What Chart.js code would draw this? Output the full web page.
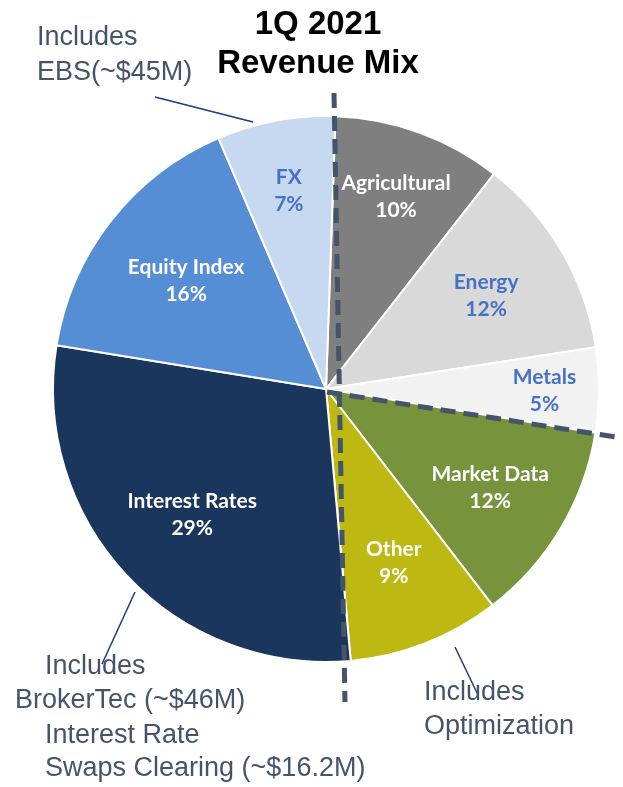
<!DOCTYPE html>
<html>
<head>
<meta charset="utf-8">
<script src="https://cdn.jsdelivr.net/npm/chart.js@4.4.0/dist/chart.umd.min.js"></script>
<style>
  html, body { margin: 0; padding: 0; background: #fff; }
  #revenueMix { display: block; }
</style>
</head>
<body>
<canvas id="revenueMix" width="623" height="787"></canvas>
<script>
// 1Q 2021 revenue mix, clockwise from 12 o'clock
const segments = ['Agricultural', 'Energy', 'Metals', 'Market Data', 'Other', 'Interest Rates', 'Equity Index', 'FX'];
const shares = [10, 12, 5, 12, 9, 29, 16, 7];

const sliceColors = ['#7f7f7f', '#d9d9d9', '#f2f2f2', '#77933c', '#bdb812', '#1b365d', '#558ed5', '#c6d9f1'];
const labelColors = ['#ffffff', '#4472c4', '#4472c4', '#ffffff', '#ffffff', '#ffffff', '#ffffff', '#4472c4'];
// how far out along the radius each label sits
const labelRadius = [0.75, 0.68, 0.8, 0.7, 0.68, 0.67, 0.65, 0.74];

const NOTE_COLOR = '#44546a';
const LEADER_COLOR = '#1f3a7a';

// labels inside each slice, e.g. "Energy" / "12%"
const sliceLabels = {
  id: 'sliceLabels',
  afterDatasetsDraw(chart) {
    const ctx = chart.ctx;
    const arcs = chart.getDatasetMeta(0).data;
    ctx.save();
    ctx.font = 'bold 21px Lato, "Open Sans", sans-serif';
    ctx.textAlign = 'center';
    ctx.textBaseline = 'middle';
    arcs.forEach((arc, i) => {
      const mid = (arc.startAngle + arc.endAngle) / 2;
      const r = arc.outerRadius * labelRadius[i];
      const x = arc.x + Math.cos(mid) * r;
      const y = arc.y + Math.sin(mid) * r;
      ctx.fillStyle = labelColors[i];
      ctx.fillText(segments[i], x, y - 13);
      ctx.fillText(shares[i] + '%', x, y + 14);
    });
    ctx.restore();
  }
};

// title, callouts and the dashed split lines
const annotations = {
  id: 'annotations',
  afterDraw(chart) {
    const ctx = chart.ctx;
    ctx.save();

    // dashed lines
    ctx.strokeStyle = NOTE_COLOR;
    ctx.lineWidth = 5;
    ctx.setLineDash([15, 8]);
    ctx.beginPath();
    ctx.moveTo(334, 93);
    ctx.lineTo(345, 702);
    ctx.stroke();
    ctx.beginPath();
    ctx.moveTo(327, 392);
    ctx.lineTo(616, 437);
    ctx.stroke();
    ctx.setLineDash([]);

    // leader lines
    ctx.strokeStyle = LEADER_COLOR;
    ctx.lineWidth = 1.5;
    [[155, 97, 253, 122], [135, 592, 102, 664], [455, 647, 478, 695]].forEach(l => {
      ctx.beginPath();
      ctx.moveTo(l[0], l[1]);
      ctx.lineTo(l[2], l[3]);
      ctx.stroke();
    });

    // title
    ctx.fillStyle = '#000';
    ctx.textAlign = 'center';
    ctx.textBaseline = 'middle';
    ctx.font = 'bold 33px "Liberation Sans", Arial, sans-serif';
    ctx.fillText('1Q 2021', 318, 25);
    ctx.fillText('Revenue Mix', 318, 64);

    // notes
    ctx.fillStyle = NOTE_COLOR;
    ctx.textAlign = 'left';
    ctx.font = '27px "Liberation Sans", Arial, sans-serif';
    ctx.fillText('Includes', 37, 38);
    ctx.fillText('EBS(~$45M)', 37, 73);
    ctx.fillText('Includes', 45, 667);
    ctx.fillText('BrokerTec (~$46M)', 15, 701);
    ctx.fillText('Interest Rate', 45, 736);
    ctx.fillText('Swaps Clearing (~$16.2M)', 45, 769);
    ctx.fillText('Includes', 424, 693);
    ctx.fillText('Optimization', 424, 727);

    ctx.restore();
  }
};

new Chart(document.getElementById('revenueMix'), {
  type: 'pie',
  data: {
    labels: segments,
    datasets: [{
      data: shares,
      backgroundColor: sliceColors,
      borderColor: '#ffffff',
      borderWidth: 2
    }]
  },
  options: {
    responsive: false,
    animation: false,
    rotation: 2,
    layout: {
      padding: { left: 52, right: 23, top: 115, bottom: 124 }
    },
    plugins: {
      legend: { display: false },
      tooltip: { enabled: false }
    }
  },
  plugins: [sliceLabels, annotations]
});
</script>
</body>
</html>
